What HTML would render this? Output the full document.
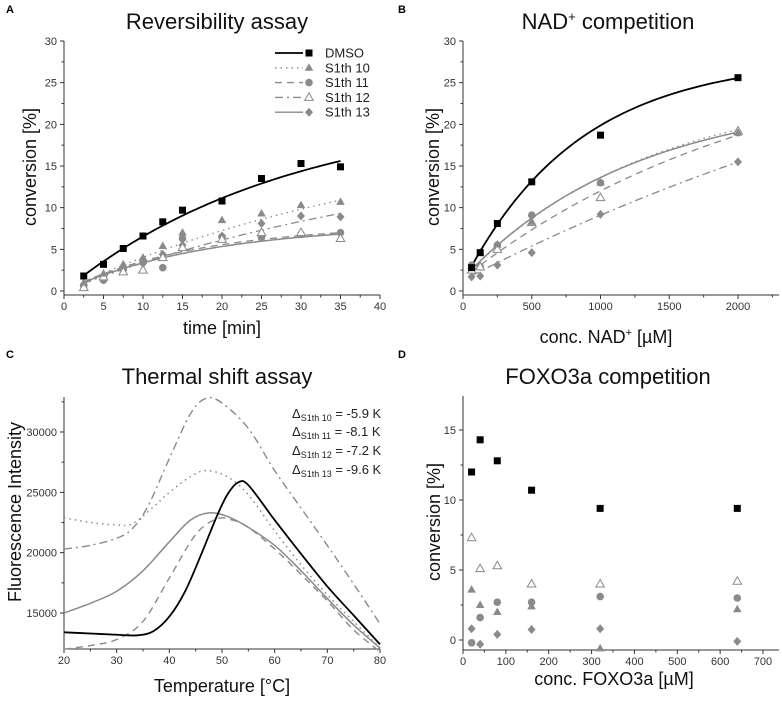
<!DOCTYPE html>
<html><head><meta charset="utf-8">
<style>
html,body{margin:0;padding:0;background:#fff;}
svg{display:block;font-family:"Liberation Sans",sans-serif;}
</style></head><body>
<svg id="fig" width="782" height="702" viewBox="0 0 782 702" xmlns="http://www.w3.org/2000/svg">
<g font-weight="bold" font-size="11">
<text x="6" y="13">A</text>
<text x="398" y="13">B</text>
<text x="6" y="358">C</text>
<text x="398" y="358">D</text>
</g>
<g font-size="22" text-anchor="middle" fill="#111">
<text x="217" y="29">Reversibility assay</text>
<text x="608" y="29">NAD<tspan font-size="13" dy="-8">+</tspan><tspan dy="8"> competition</tspan></text>
<text x="217" y="384">Thermal shift assay</text>
<text x="608" y="384">FOXO3a competition</text>
</g>
<g font-size="18" text-anchor="middle" fill="#111">
<text x="222" y="334">time [min]</text>
<text x="606" y="343">conc. NAD<tspan font-size="11" dy="-7">+</tspan><tspan dy="7"> [µM]</tspan></text>
<text x="222" y="692">Temperature [°C]</text>
<text x="614" y="685">conc. FOXO3a [µM]</text>
<text transform="translate(36,167) rotate(-90)">conversion [%]</text>
<text transform="translate(439,167) rotate(-90)">conversion [%]</text>
<text transform="translate(21,512) rotate(-90)">Fluorescence Intensity</text>
<text transform="translate(440,522) rotate(-90)">conversion [%]</text>
</g>
<g font-size="13" fill="#222">
<text x="292" y="418">Δ<tspan font-size="9" dy="3">S1th 10</tspan><tspan dy="-3"> = -5.9 K</tspan></text>
<text x="292" y="436">Δ<tspan font-size="9" dy="3">S1th 11</tspan><tspan dy="-3"> = -8.1 K</tspan></text>
<text x="292" y="455">Δ<tspan font-size="9" dy="3">S1th 12</tspan><tspan dy="-3"> = -7.2 K</tspan></text>
<text x="292" y="474">Δ<tspan font-size="9" dy="3">S1th 13</tspan><tspan dy="-3"> = -9.6 K</tspan></text>
</g>
</svg>
<script>
// ---------- Panel A data ----------
const aTimes = [2.5,5,7.5,10,12.5,15,20,25,30,35];
const aDMSO  = [1.8,3.2,5.1,6.6,8.3,9.7,10.8,13.5,15.3,14.9];
const aS10   = [1.0,2.1,3.2,4.0,5.4,7.0,8.5,9.3,10.3,10.7];
const aS11   = [0.6,1.3,2.6,3.5,2.8,6.3,6.5,6.5,6.8,7.0];
const aS12   = [0.4,1.7,2.3,2.5,4.0,5.2,6.2,7.0,7.0,6.3];
const aS13   = [0.8,1.6,2.6,3.3,4.4,5.5,6.6,8.1,9.0,8.9];
// fit parameters y = c + a(1-exp(-k x)) : [c,a,k]
const aFitDMSO = [0,22,0.0353];
const aFitS10  = [0,20,0.0225];
const aFitS11  = [0,8,0.0594];
const aFitS12  = [0,18,0.0208];
const aFitS13  = [0,8,0.055];
const aXTicks = [0,5,10,15,20,25,30,35,40];
const aYTicks = [0,5,10,15,20,25,30];
// ---------- Panel B data ----------
const bConc = [62.5,125,250,500,1000,2000];
const bDMSO = [2.8,4.6,8.1,13.1,18.7,25.6];
const bS10  = [3.0,4.6,5.6,8.3,13.0,19.0];
const bS11  = [3.1,2.9,5.5,9.1,13.0,19.0];
const bS12  = [2.5,2.9,5.0,8.2,11.2,19.2];
const bS13  = [1.7,1.8,3.1,4.6,9.2,15.5];
const bFitDMSO = [1,27,0.0012];
const bFitS10  = [1.5,23,0.00075];
const bFitS11  = [1.5,29,0.00045];
const bFitS12  = [1.3,43,0.0002];
const bFitS13  = [1.5,22,0.0008];
const bXTicks = [0,500,1000,1500,2000];
const bYTicks = [0,5,10,15,20,25,30];
// ---------- Panel C data ----------
const cTDMSO = [20,25,30,34,37,40,43,46,49,51,53,55,60,65,70,75,80];
const cVDMSO = [13400,13300,13200,13150,13500,14700,16800,19800,23000,24800,25800,25600,22700,19900,17200,14800,12400];
const cTS10 = [20,25,30,33,37,40,44,47,51,55,60,65,70,75,80];
const cVS10 = [22900,22500,22300,22400,23800,25000,26300,26800,26300,24800,21800,19000,16500,14300,12100];
const cTS11 = [20,25,30,35,40,45,49,52,55,60,65,70,75,80];
const cVS11 = [12000,12300,12800,14300,17900,21500,22800,22700,22100,20300,18200,16000,13600,11800];
const cTS12 = [20,25,30,33,36,40,44,47,50,55,60,65,70,75,80];
const cVS12 = [20300,20600,21200,22000,23900,27800,31500,32800,32400,30300,26800,23700,20600,17400,14100];
const cTS13 = [20,25,30,35,40,44,47.5,51,55,60,65,70,75,80];
const cVS13 = [15000,15800,16800,18500,20900,22700,23300,23000,22100,20600,18500,16200,14000,12100];
const cXTicks = [20,30,40,50,60,70,80];
const cYTicks = [15000,20000,25000,30000];
// ---------- Panel D data ----------
const dConc = [20,40,80,160,320,640];
const dDMSO = [12.0,14.3,12.8,10.7,9.4,9.4];
const dS10  = [3.6,2.5,2.0,2.4,-0.6,2.2];
const dS11  = [-0.2,1.6,2.7,2.7,3.1,3.0];
const dS12  = [7.3,5.1,5.3,4.0,4.0,4.2];
const dS13  = [0.8,-0.3,0.4,0.75,0.8,-0.1];
const dXTicks = [0,100,200,300,400,500,600,700];
const dYTicks = [0,5,10,15];

const NS = 'http://www.w3.org/2000/svg';
const svg = document.getElementById('fig');
const GRAY = '#8a8a8a';
function mk(tag, parent){ const e=document.createElementNS(NS,tag); parent.appendChild(e); return e; }

function makeAxes(name, px0, px1, py0, py1, xd0, xd1, yd0, yd1, xTicks, xMinor, yTicks, yMinor, axisXEnd, axisYTop, axisYBot){
  const sx = v => px0 + (v-xd0)/(xd1-xd0)*(px1-px0);
  const sy = v => py0 - (v-yd0)/(yd1-yd0)*(py0-py1);
  const g = mk('g', svg);
  
  
  const bottom = axisYBot;
  const ax = mk('path', g);
  
  
  ax.setAttribute('d', `M${px0},${axisYTop} L${px0},${bottom} L${axisXEnd},${bottom}`);
  ax.setAttribute('stroke','#333'); ax.setAttribute('fill','none'); ax.setAttribute('stroke-width','1');
  let d='';
  xTicks.forEach(t=>{ d+=`M${sx(t)},${bottom} L${sx(t)},${bottom+4} `;
    const tx = mk('text', g);
    
    
    tx.setAttribute('x', sx(t)); tx.setAttribute('y', bottom+15);
    tx.setAttribute('font-size','11'); tx.setAttribute('text-anchor','middle'); tx.setAttribute('fill','#333');
    tx.textContent = t; });
  for(let v=xd0; sx(v)<=axisXEnd+0.5; v+=xMinor){ d+=`M${sx(v)},${bottom} L${sx(v)},${bottom+2.5} `; }
  yTicks.forEach(t=>{ d+=`M${px0},${sy(t)} L${px0-4},${sy(t)} `;
    const tx = mk('text', g);
    
    
    tx.setAttribute('x', px0-7); tx.setAttribute('y', sy(t)+4);
    tx.setAttribute('font-size','11'); tx.setAttribute('text-anchor','end'); tx.setAttribute('fill','#333');
    tx.textContent = t; });
  for(let v=yTicks[0]-yMinor*Math.floor((yTicks[0]-yd0)/yMinor); sy(v)>=axisYTop-0.5; v+=yMinor){ if(sy(v)<=bottom) d+=`M${px0},${sy(v)} L${px0-2.5},${sy(v)} `; }
  const tk = mk('path', g);
  
  
  tk.setAttribute('d', d); tk.setAttribute('stroke','#333'); tk.setAttribute('fill','none');
  return {sx, sy, g};
}

function marker(g, type, x, y, color, name){
  let e;
  if(type==='square'){ e=mk('rect',g); e.setAttribute('x',x-3.5); e.setAttribute('y',y-3.5); e.setAttribute('width',7); e.setAttribute('height',7); e.setAttribute('fill',color); }
  else if(type==='circle'){ e=mk('circle',g); e.setAttribute('cx',x); e.setAttribute('cy',y); e.setAttribute('r',3.8); e.setAttribute('fill',color); }
  else if(type==='tri' || type==='otri'){ e=mk('path',g); e.setAttribute('d',`M${x},${y-4.5} L${x+4.3},${y+3} L${x-4.3},${y+3} Z`);
    if(type==='tri'){ e.setAttribute('fill',color);} else { e.setAttribute('fill','#fff'); e.setAttribute('stroke',color); e.setAttribute('stroke-width','1'); } }
  else if(type==='diamond'){ e=mk('path',g); e.setAttribute('d',`M${x},${y-4.5} L${x+4},${y} L${x},${y+4.5} L${x-4},${y} Z`); e.setAttribute('fill',color); }
  
  
  return e;
}

function scatter(ax, xs, ys, type, color, name){
  const g = mk('g', ax.g);
  
  
  xs.forEach((x,i)=>marker(g, type, ax.sx(x), ax.sy(ys[i]), color, name+'-point'));
}

const DASH = {solid:'', dotted:'1.5,4', dashed:'7,5', dashdot:'8,4,2,4'};
function fitCurve(ax, p, x0, x1, color, style, width, name){
  const [c,a,k]=p; let d='';
  for(let i=0;i<=80;i++){ const x=x0+(x1-x0)*i/80; const y=c+a*(1-Math.exp(-k*x)); d+=(i?'L':'M')+ax.sx(x).toFixed(2)+','+ax.sy(y).toFixed(2)+' '; }
  const e = mk('path', ax.g);
  
  
  e.setAttribute('d', d); e.setAttribute('fill','none'); e.setAttribute('stroke',color); e.setAttribute('stroke-width',width);
  if(DASH[style]) e.setAttribute('stroke-dasharray', DASH[style]);
}

function smoothCurve(ax, xs, ys, color, style, width, name){
  const P = xs.map((x,i)=>[ax.sx(x), ax.sy(ys[i])]);
  let d = `M${P[0][0]},${P[0][1]} `;
  for(let i=0;i<P.length-1;i++){
    const p0=P[Math.max(0,i-1)], p1=P[i], p2=P[i+1], p3=P[Math.min(P.length-1,i+2)];
    const c1=[p1[0]+(p2[0]-p0[0])/6, p1[1]+(p2[1]-p0[1])/6];
    const c2=[p2[0]-(p3[0]-p1[0])/6, p2[1]-(p3[1]-p1[1])/6];
    d+=`C${c1[0].toFixed(2)},${c1[1].toFixed(2)} ${c2[0].toFixed(2)},${c2[1].toFixed(2)} ${p2[0].toFixed(2)},${p2[1].toFixed(2)} `;
  }
  const e = mk('path', ax.g);
  
  
  e.setAttribute('d', d); e.setAttribute('fill','none'); e.setAttribute('stroke',color); e.setAttribute('stroke-width',width);
  if(DASH[style]) e.setAttribute('stroke-dasharray', DASH[style]);
}

// Panel A
const A = makeAxes('panel-a', 64, 380, 291, 41, 0, 40, 0, 30, aXTicks, 2.5, aYTicks, 2.5, 380, 41, 295);
fitCurve(A, aFitS13, 2.5, 35, GRAY, 'solid', 1.5, 'fit-a-s1th13');
fitCurve(A, aFitS11, 2.5, 35, GRAY, 'dashed', 1.3, 'fit-a-s1th11');
fitCurve(A, aFitS12, 2.5, 35, GRAY, 'dashdot', 1.3, 'fit-a-s1th12');
fitCurve(A, aFitS10, 2.5, 35, GRAY, 'dotted', 1.3, 'fit-a-s1th10');
fitCurve(A, aFitDMSO, 2.5, 35, '#000', 'solid', 1.8, 'fit-a-dmso');
scatter(A, aTimes, aS13, 'diamond', GRAY, 'a-s1th13');
scatter(A, aTimes, aS11, 'circle', GRAY, 'a-s1th11');
scatter(A, aTimes, aS12, 'otri', GRAY, 'a-s1th12');
scatter(A, aTimes, aS10, 'tri', GRAY, 'a-s1th10');
scatter(A, aTimes, aDMSO, 'square', '#000', 'a-dmso');
// Legend A
const legNames = ['DMSO','S1th 10','S1th 11','S1th 12','S1th 13'];
const legStyles = ['solid','dotted','dashed','dashdot','solid'];
const legMarkers = ['square','tri','circle','otri','diamond'];
const lg = mk('g', svg);


legNames.forEach((n,i)=>{
  const y = 53 + i*14.8; const col = i===0?'#000':GRAY;
  const ln = mk('line', lg);
  
  
  ln.setAttribute('x1',275); ln.setAttribute('x2',303); ln.setAttribute('y1',y); ln.setAttribute('y2',y);
  ln.setAttribute('stroke',col); ln.setAttribute('stroke-width', i===0?1.8:1.4);
  if(DASH[legStyles[i]]) ln.setAttribute('stroke-dasharray', DASH[legStyles[i]]);
  marker(lg, legMarkers[i], 309, y, col, 'legend-marker');
  const t = mk('text', lg);
  
  
  t.setAttribute('x',325); t.setAttribute('y',y+4.5); t.setAttribute('font-size','13'); t.setAttribute('fill','#222');
  t.textContent = n;
});

// Panel B
const B = makeAxes('panel-b', 463, 738, 291, 41, 0, 2000, 0, 30, bXTicks, 250, bYTicks, 2.5, 779, 41, 295);
fitCurve(B, bFitS12, 62.5, 2000, GRAY, 'dashdot', 1.3, 'fit-b-s1th12');
fitCurve(B, bFitS11, 62.5, 2000, GRAY, 'dashed', 1.3, 'fit-b-s1th11');
fitCurve(B, bFitS10, 62.5, 2000, GRAY, 'dotted', 1.3, 'fit-b-s1th10');
fitCurve(B, bFitS13, 62.5, 2000, GRAY, 'solid', 1.5, 'fit-b-s1th13');
fitCurve(B, bFitDMSO, 62.5, 2000, '#000', 'solid', 1.8, 'fit-b-dmso');
scatter(B, bConc, bS13, 'diamond', GRAY, 'b-s1th13');
scatter(B, bConc, bS11, 'circle', GRAY, 'b-s1th11');
scatter(B, bConc, bS12, 'otri', GRAY, 'b-s1th12');
scatter(B, bConc, bS10, 'tri', GRAY, 'b-s1th10');
scatter(B, bConc, bDMSO, 'square', '#000', 'b-dmso');

// Panel C
const C = makeAxes('panel-c', 64, 380, 613, 432, 20, 80, 15000, 30000, cXTicks, 5, cYTicks, 2500, 380, 397, 649);
smoothCurve(C, cTS12, cVS12, GRAY, 'dashdot', 1.4, 'thermal-s1th12');
smoothCurve(C, cTS10, cVS10, GRAY, 'dotted', 1.5, 'thermal-s1th10');
smoothCurve(C, cTS11, cVS11, GRAY, 'dashed', 1.4, 'thermal-s1th11');
smoothCurve(C, cTS13, cVS13, GRAY, 'solid', 1.5, 'thermal-s1th13');
smoothCurve(C, cTDMSO, cVDMSO, '#000', 'solid', 1.8, 'thermal-dmso');

// Panel D
const D = makeAxes('panel-d', 463, 763, 640, 430, 0, 700, 0, 15, dXTicks, 50, dYTicks, 2.5, 779, 396, 650);
scatter(D, dConc, dS13, 'diamond', GRAY, 'd-s1th13');
scatter(D, dConc, dS11, 'circle', GRAY, 'd-s1th11');
scatter(D, dConc, dS10, 'tri', GRAY, 'd-s1th10');
scatter(D, dConc, dS12, 'otri', GRAY, 'd-s1th12');
scatter(D, dConc, dDMSO, 'square', '#000', 'd-dmso');
</script>
</body></html>
